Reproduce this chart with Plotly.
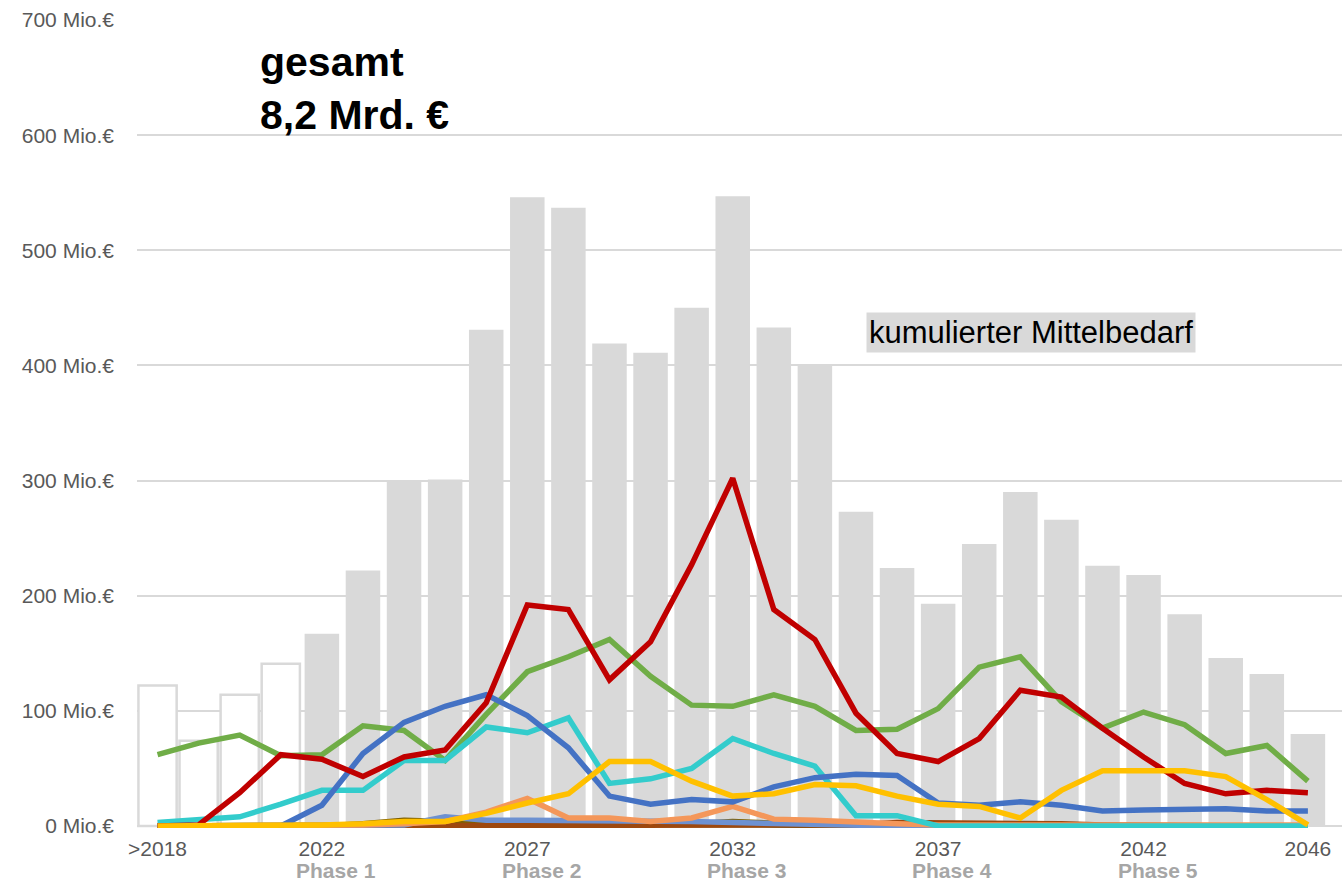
import plotly.graph_objects as go

categories = [">2018"] + [str(y) for y in range(2019, 2047)]
n_actual = 4  # first four years drawn as outlined bars

total = [122, 74, 114, 141, 167, 222, 300, 301, 431, 546, 537, 419, 411, 450, 547,
         433, 400, 273, 224, 193, 245, 290, 266, 226, 218, 184, 146, 132, 80]

green = [62, 72, 79, 61, 62, 87, 83, 57, 97, 134, 147, 162, 130, 105, 104, 114, 104,
         83, 84, 102, 138, 147, 108, 85, 99, 88, 63, 70, 39]
red = [0, 1, 29, 62, 58, 43, 60, 66, 107, 192, 188, 127, 160, 227, 302, 188, 162,
       98, 63, 56, 76, 118, 112, 85, 60, 37, 28, 31, 29]
blue = [0, 0, 0, 0, 18, 63, 90, 104, 114, 96, 68, 26, 19, 23, 21, 34, 42, 45, 44,
        20, 18, 21, 18, 13, 14, 15, 15, 13, 13]
cyan = [3, 5, 8, 19, 31, 31, 57, 57, 86, 81, 94, 37, 41, 50, 76, 63, 52, 9, 9,
        0, 0, 0, 0, 0, 0, 0, 0, 0, 0]
yellow = [0, 0, 0, 0, 1, 2, 4, 4, 11, 20, 28, 56, 56, 39, 26, 28, 36, 35, 26, 19,
          17, 7, 31, 48, 48, 48, 43, 23, 1]
orange = [0, 0, 0, 0, 0, 1, 2, 4, 12, 24, 7, 7, 4, 7, 17, 6, 5, 3, 2, 1, 1, 1, 1,
          1, 1, 1, 1, 1, 1]
lightblue = [0, 0, 0, 0, 0, 0, 1, 8, 5, 5, 5, 5, 4, 4, 3, 2, 1, 0.5, 0, 0, 0, 0, 0,
             0, 0, 0, 0, 0, 0]
darkgreen = [0, 0, 0, 0, 0, 0, 1, 2, 2, 2, 2, 2, 2, 2, 1.5, 1, 0.5, 0, 0, 0, 0, 0,
             0, 0, 0, 0, 0, 0, 0]
olive = [0, 0, 0, 0, 0, 2, 5, 4, 2, 1, 1, 1, 1, 2, 4, 2, 1, 1, 1, 1, 0.5, 0, 0, 0,
         0, 0, 0, 0, 0]
brown = [0, 0, 0, 0, 0, 0, 0, 0, 0, 0, 0, 0, 0, 0, 0, 0, 0, 1, 3, 3, 3, 3, 2, 1,
         0.5, 0, 0, 0, 0]

y_ticks = [0, 100, 200, 300, 400, 500, 600, 700]
y_unit = " Mio.€"
tick_vals = [">2018", "2022", "2027", "2032", "2037", "2042", "2046"]
phase_years = ["2022", "2027", "2032", "2037", "2042"]
phase_labels = ["Phase 1", "Phase 2", "Phase 3", "Phase 4", "Phase 5"]

title_text = "gesamt<br>8,2 Mrd. €"
box_text = "kumulierter Mittelbedarf"

FONT = "Liberation Sans, Arial, sans-serif"

fig = go.Figure()

fig.add_trace(go.Bar(
    x=categories[:n_actual], y=total[:n_actual], width=0.93,
    marker=dict(color="white", line=dict(color="#D9D9D9", width=2.5)),
    hoverinfo="skip", showlegend=False))
fig.add_trace(go.Bar(
    x=categories[n_actual:], y=total[n_actual:], width=0.84,
    marker=dict(color="#D9D9D9", line=dict(width=0)),
    hoverinfo="skip", showlegend=False))

series = [
    (darkgreen, "#3C6428"),
    (olive, "#7F6000"),
    (brown, "#9E480E"),
    (lightblue, "#6D91D1"),
    (orange, "#F4975A"),
    (green, "#70AD47"),
    (cyan, "#33CCCC"),
    (blue, "#4472C4"),
    (red, "#C00000"),
    (yellow, "#FFC000"),
]
for vals, col in series:
    fig.add_trace(go.Scatter(
        x=categories, y=vals, mode="lines",
        line=dict(color=col, width=5.5),
        hoverinfo="skip", showlegend=False))

annotations = [
    dict(text=f"<b>{title_text}</b>", xref="paper", yref="paper",
         x=0.1, y=0.979, xanchor="left", yanchor="top", align="left",
         showarrow=False, font=dict(size=41, color="black", family=FONT)),
    dict(text=box_text, xref="paper", yref="paper",
         x=0.742, y=0.613, xanchor="center", yanchor="middle",
         showarrow=False, bgcolor="#D9D9D9", borderpad=2,
         font=dict(size=31, color="black", family=FONT)),
]
for yr, ph in zip(phase_years, phase_labels):
    annotations.append(dict(
        text=f"<b>{ph}</b>", x=categories.index(yr), xref="x",
        y=-0.0675, yref="paper",
        xanchor="center", yanchor="bottom", xshift=14, borderpad=0,
        showarrow=False, font=dict(size=21, color="#A6A6A6", family=FONT)))

fig.update_layout(
    width=1342, height=883,
    margin=dict(l=137, r=0, t=20, b=55),
    paper_bgcolor="white", plot_bgcolor="white",
    barmode="overlay",
    font=dict(family=FONT),
    xaxis=dict(
        type="category", range=[-0.5, 28.83],
        tickmode="array", tickvals=tick_vals, ticktext=tick_vals,
        tickfont=dict(size=21, color="#595959"),
        showgrid=False, showline=False, ticks="", zeroline=False,
        ticklabelstandoff=6, automargin=False,
    ),
    yaxis=dict(
        range=[-1.7, 700], tickmode="array", tickvals=y_ticks,
        ticktext=[f"{v}{y_unit}" for v in y_ticks],
        tickfont=dict(size=21, color="#595959"),
        showgrid=True, gridcolor="#D9D9D9", gridwidth=1.5,
        zeroline=False, showline=False, ticks="",
        ticklabelstandoff=22, automargin=False,
    ),
    annotations=annotations,
)

fig.write_html("out.html", config={"displayModeBar": False},
               post_script="document.body.style.margin='0';document.body.style.padding='0';")
